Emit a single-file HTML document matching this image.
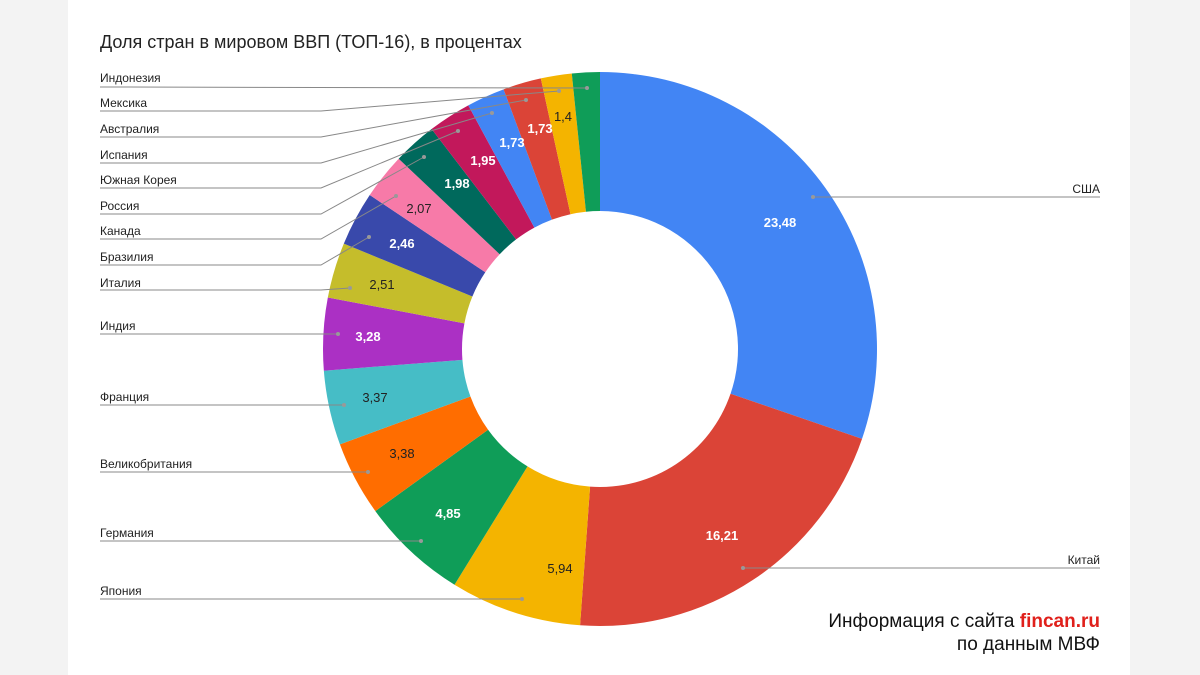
<!DOCTYPE html>
<html><head><meta charset="utf-8"><style>
body{margin:0;width:1200px;height:675px;overflow:hidden;background:#f3f3f3;font-family:"Liberation Sans",sans-serif;}
#p{position:absolute;left:68px;top:0;width:1062px;height:675px;background:#fff;}
svg{position:absolute;left:0;top:0}
</style></head><body>
<div id="p"></div>
<svg width="1200" height="675" xmlns="http://www.w3.org/2000/svg" font-family="Liberation Sans, sans-serif">
<g id="sl"></g>
<text x="100" y="48" font-size="18" fill="#222">Доля стран в мировом ВВП (ТОП-16), в  процентах</text>
<g stroke="#888" stroke-width="1" fill="none">
<polyline points="100,87 587,88"/>
<polyline points="100,111 321,111 559,91"/>
<polyline points="100,137 321,137 526,100"/>
<polyline points="100,163 321,163 492,113"/>
<polyline points="100,188 321,188 458,131"/>
<polyline points="100,214 321,214 424,157"/>
<polyline points="100,239 321,239 396,196"/>
<polyline points="100,265 321,265 369,237"/>
<polyline points="100,290 321,290 350,288"/>
<polyline points="100,334 338,334"/>
<polyline points="100,405 344,405"/>
<polyline points="100,472 368,472"/>
<polyline points="100,541 421,541"/>
<polyline points="100,599 522,599"/>
<polyline points="813,197 1100,197"/>
<polyline points="743,568 1100,568"/>
</g>
<g fill="#999">
<circle cx="587" cy="88" r="2"/><circle cx="559" cy="91" r="2"/><circle cx="526" cy="100" r="2"/><circle cx="492" cy="113" r="2"/><circle cx="458" cy="131" r="2"/><circle cx="424" cy="157" r="2"/><circle cx="396" cy="196" r="2"/><circle cx="369" cy="237" r="2"/><circle cx="350" cy="288" r="2"/><circle cx="338" cy="334" r="2"/><circle cx="344" cy="405" r="2"/><circle cx="368" cy="472" r="2"/><circle cx="421" cy="541" r="2"/><circle cx="522" cy="599" r="2"/><circle cx="813" cy="197" r="2"/><circle cx="743" cy="568" r="2"/>
</g>
<g font-size="12" fill="#222">
<text x="100" y="82">Индонезия</text>
<text x="100" y="107">Мексика</text>
<text x="100" y="133">Австралия</text>
<text x="100" y="159">Испания</text>
<text x="100" y="184">Южная Корея</text>
<text x="100" y="210">Россия</text>
<text x="100" y="235">Канада</text>
<text x="100" y="261">Бразилия</text>
<text x="100" y="287">Италия</text>
<text x="100" y="330">Индия</text>
<text x="100" y="401">Франция</text>
<text x="100" y="468">Великобритания</text>
<text x="100" y="537">Германия</text>
<text x="100" y="595">Япония</text>
<text x="1100" y="193" text-anchor="end">США</text>
<text x="1100" y="564" text-anchor="end">Китай</text>
</g>
<g font-size="13" text-anchor="middle">
<text x="780" y="227" fill="#fff" font-weight="bold">23,48</text>
<text x="722" y="540" fill="#fff" font-weight="bold">16,21</text>
<text x="560" y="573" fill="#222">5,94</text>
<text x="448" y="518" fill="#fff" font-weight="bold">4,85</text>
<text x="402" y="458" fill="#222">3,38</text>
<text x="375" y="402" fill="#222">3,37</text>
<text x="368" y="341" fill="#fff" font-weight="bold">3,28</text>
<text x="382" y="289" fill="#222">2,51</text>
<text x="402" y="248" fill="#fff" font-weight="bold">2,46</text>
<text x="419" y="213" fill="#222">2,07</text>
<text x="457" y="188" fill="#fff" font-weight="bold">1,98</text>
<text x="483" y="165" fill="#fff" font-weight="bold">1,95</text>
<text x="512" y="147" fill="#fff" font-weight="bold">1,73</text>
<text x="540" y="133" fill="#fff" font-weight="bold">1,73</text>
<text x="563" y="121" fill="#222">1,4</text>
</g>
<g font-size="19" fill="#111" text-anchor="end">
<text x="1100" y="627">Информация с сайта <tspan fill="#e0201b" font-weight="bold">fincan.ru</tspan></text>
<text x="1100" y="650">по данным МВФ</text>
</g>
</svg>
<script>
var v=[23.48,16.21,5.94,4.85,3.38,3.37,3.28,2.51,2.46,2.07,1.98,1.95,1.73,1.73,1.4,1.26];
var c=["#4285f4","#db4437","#f4b400","#0f9d58","#ff6d00","#46bdc6","#ab30c4","#c5bd2b","#3949ab","#f77aa8","#00695c","#c2185b","#4285f4","#db4437","#f4b400","#0f9d58"];
var t=v.reduce(function(a,b){return a+b},0),cx=600,cy=349,R=277,r=138,a=0,s="";
function pt(rr,an){return [cx+rr*Math.sin(an),cy-rr*Math.cos(an)];}
for(var i=0;i<v.length;i++){var b=a+v[i]/t*2*Math.PI,l=(b-a)>Math.PI?1:0;
var p1=pt(R,a),p2=pt(R,b),p3=pt(r,b),p4=pt(r,a);
s+='<path fill="'+c[i]+'" d="M'+p1+' A'+R+','+R+' 0 '+l+' 1 '+p2+' L'+p3+' A'+r+','+r+' 0 '+l+' 0 '+p4+'Z"/>';a=b;}
document.getElementById("sl").innerHTML=s;
</script>
</body></html>
